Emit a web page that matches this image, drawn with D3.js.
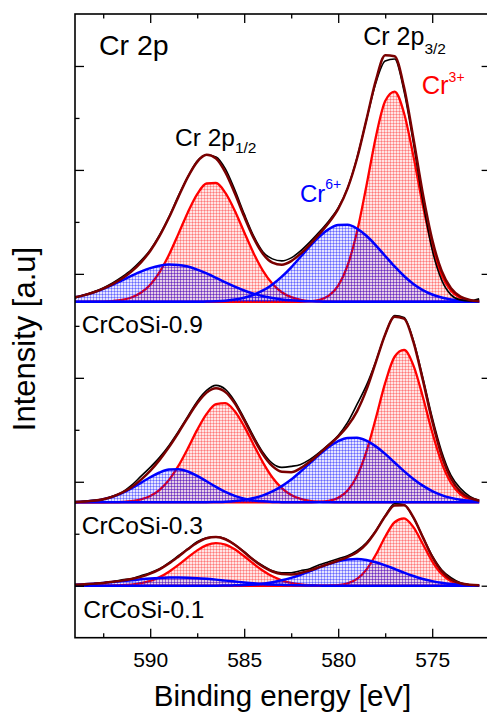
<!DOCTYPE html>
<html><head><meta charset="utf-8">
<script src="https://cdn.jsdelivr.net/npm/d3@7"></script>
<style>html,body{margin:0;padding:0;background:#fff;}svg{display:block;font-family:"Liberation Sans",Arial,sans-serif;}</style>
</head><body><svg id="c" width="487" height="715"></svg>
<script>
// Binding energy grid (eV)
const energy = [594,593.5,593,592.5,592,591.5,591,590.5,590,589.5,589,588.5,588,587.5,587,586.5,586,585.5,585,584.5,584,583.5,583,582.5,582,581.5,581,580.5,580,579.5,579,578.5,578,577.5,577,576.5,576,575.5,575,574.5,574,573.5,573,572.5];

const sampleNames = ["CrCoSi-0.9","CrCoSi-0.3","CrCoSi-0.1"];
const sampleOffsets = [284, 83.4, 0];

// CrCoSi-0.9
const raw09 = [4,7,10,14,19,25,32,41,52,67,85,106,125,141,147,145,133,112,88,66,50,43,41,44,51,60,70,81,94,114,144,182,219,241,243,211,159,101,52,22,7,2,1,3];
const env09 = [4.5,6.7,9.6,13.3,17.8,23.3,30.3,39.3,50.9,66.0,84.4,105.0,124.8,140.1,147.1,143.5,129.6,108.7,85.3,64.0,48.0,39.3,37.2,40.8,48.2,57.6,68.0,79.2,93.1,113.5,143.4,182.1,221.4,246.8,245.8,214.9,163.7,108.4,62.3,31.2,13.6,5.3,1.9,0.6];
const cr3p32_09 = [0,0,0,0,0,0,0,0,0,0,0,0,0,0,0,0,0,0,0,0,0,0,0,0,0.1,0.6,2.0,6.2,16.2,36.4,70.1,116.0,164.8,200.9,210.4,189.0,145.8,96.6,54.9,26.8,11.2,4.0,1.2,0.3];
const cr6p32_09 = [0,0,0,0,0,0,0,0,0,0,0,0,0,0,0.3,0.6,1.2,2.3,4.2,7.1,11.4,17.4,25.2,34.6,45.1,55.7,65.4,72.8,76.9,77.1,73.3,66.1,56.6,45.9,35.4,25.9,17.9,11.8,7.4,4.4,2.4,1.3,0.7,0.3];
const cr3p12_09 = [0,0,0.1,0.3,0.8,1.9,4.4,9.1,17.2,29.8,47.1,68.0,89.5,107.8,118.4,118.9,109.0,91.2,69.7,48.7,31.0,18.1,9.6,4.7,2.1,0.8,0.3,0.1,0,0,0,0,0,0,0,0,0,0,0,0,0,0,0,0];
const cr6p12_09 = [4.5,6.7,9.5,13.0,17.0,21.4,25.9,30.2,33.7,36.2,37.3,37.0,35.3,32.3,28.4,24.0,19.4,15.2,11.4,8.2,5.6,3.8,2.4,1.5,0.9,0.5,0.3,0.1,0,0,0,0,0,0,0,0,0,0,0,0,0,0,0,0];

// CrCoSi-0.3
const raw03 = [0,1,2,3,6,10,17,26,35,45,57,71,86,101,112,117,113,101,84,66,50,39,35,36,38,43,50,58,67,80,98,117,141,168,187,185,162,125,85,51,27,14,6,2];
const env03 = [0.3,0.8,1.6,3.2,5.8,9.7,15.2,22.5,31.5,42.5,55.3,69.6,84.8,99.1,109.8,114.2,110.3,99.0,82.2,64.0,47.8,36.2,30.6,30.2,34.2,40.8,48.8,57.2,65.8,76.3,91.1,112.5,140.1,168.0,185.6,183.8,160.5,122.4,81.4,47.1,23.9,10.7,4.4,1.7];
const cr3p32_03 = [0,0,0,0,0,0,0,0,0,0,0,0,0,0,0,0,0,0,0,0,0,0,0,0,0,0.1,0.4,1.5,4.5,11.8,26.4,50.8,84.1,119.5,145.7,152.5,137.1,105.7,70.1,39.8,19.4,8.1,2.9,0.9];
const cr6p32_03 = [0,0,0,0,0,0,0,0,0,0,0,0,0,0,0.2,0.4,0.7,1.4,2.5,4.3,7.0,10.9,16.2,22.8,30.7,39.2,47.8,55.5,61.3,64.5,64.7,61.7,56.0,48.5,39.9,31.3,23.4,16.7,11.3,7.3,4.5,2.6,1.5,0.8];
const cr3p12_03 = [0,0,0,0,0.2,0.5,1.2,3.0,6.4,12.6,22.5,36.5,53.9,72.5,88.5,98.3,99.2,91.1,76.0,57.7,39.8,24.9,14.2,7.4,3.5,1.5,0.6,0.2,0,0,0,0,0,0,0,0,0,0,0,0,0,0,0,0];
const cr6p12_03 = [0.3,0.8,1.6,3.2,5.6,9.2,14.0,19.5,25.1,29.9,32.8,33.1,30.9,26.6,21.1,15.5,10.4,6.5,3.7,2.0,1.0,0.4,0.2,0,0,0,0,0,0,0,0,0,0,0,0,0,0,0,0,0,0,0,0,0];

// CrCoSi-0.1
const raw01 = [1,1,2,3,4,6,7,10,13,17,23,30,37,44,48,49,47,41,34,26,20,15,13,13,15,17,21,24,27,30,35,43,55,70,82,81,68,49,30,16,8,3,1,0];
const env01 = [1.1,1.5,2.1,2.8,3.9,5.1,6.7,8.9,12.1,16.4,22.2,29.1,36.4,43.0,47.5,48.8,46.5,41.0,33.5,25.7,19.0,14.2,11.7,11.3,12.8,15.4,18.6,21.9,25.2,28.7,33.5,41.8,54.5,69.4,80.3,80.5,68.3,48.6,29.0,14.6,6.3,2.5,0.9,0.4];
const cr3p32_01 = [0,0,0,0,0,0,0,0,0,0,0,0,0,0,0,0,0,0,0,0,0,0,0,0,0,0,0,0.2,0.7,2.4,6.8,16.1,31.0,49.0,63.5,67.4,58.6,41.8,24.4,11.7,4.6,1.5,0.4,0.1];
const cr6p32_01 = [0,0,0,0,0,0,0,0,0,0,0,0,0,0,0,0,0.2,0.4,0.7,1.2,2.1,3.5,5.4,7.9,11.0,14.6,18.3,21.7,24.5,26.3,26.7,25.7,23.5,20.4,16.8,13.1,9.7,6.8,4.6,2.9,1.7,1.0,0.5,0.3];
const cr3p12_01 = [0,0,0,0,0.2,0.5,1.2,2.5,4.9,8.6,14.0,20.8,28.3,35.4,40.6,42.7,41.2,36.4,29.5,22.0,15.0,9.4,5.4,2.8,1.4,0.6,0.2,0,0,0,0,0,0,0,0,0,0,0,0,0,0,0,0,0];
const cr6p12_01 = [1.1,1.5,2.1,2.8,3.7,4.6,5.5,6.4,7.2,7.8,8.2,8.3,8.1,7.6,6.9,6.1,5.1,4.2,3.3,2.5,1.9,1.3,0.9,0.6,0.4,0.2,0.1,0,0,0,0,0,0,0,0,0,0,0,0,0,0,0,0,0];

const xMajorTicks = [590,585,580,575];
const xMinorTicks = [592.5,587.5,582.5,577.5];
const yMajorTicks = [0,104,208,312,416,520];
const yMinorTicks = [52,156,260,364,468];

const spectra = [
  {offset: sampleOffsets[0], raw: raw09, env: env09, red: [cr3p32_09, cr3p12_09], blue: [cr6p32_09, cr6p12_09]},
  {offset: sampleOffsets[1], raw: raw03, env: env03, red: [cr3p32_03, cr3p12_03], blue: [cr6p32_03, cr6p12_03]},
  {offset: sampleOffsets[2], raw: raw01, env: env01, red: [cr3p32_01, cr3p12_01], blue: [cr6p32_01, cr6p12_01]}
];

const L = 75, T = 14, R = 488.6, B = 637.7;
const svg = d3.select("#c");
const x = d3.scaleLinear().domain([594, 572]).range([L, R]);
const y = d3.scaleLinear().domain([-52, 572]).range([B, T]);

const defs = svg.append("defs");
defs.append("clipPath").attr("id","clip").append("rect").attr("x",L).attr("y",T).attr("width",R-L).attr("height",B-T);
function pattern(id, line, bg) {
  const p = defs.append("pattern").attr("id", id).attr("width", 3).attr("height", 3).attr("patternUnits", "userSpaceOnUse");
  p.append("rect").attr("width", 3).attr("height", 3).attr("fill", bg);
  p.append("path").attr("d", "M0,0.5H3M0.5,0V3").attr("stroke", line).attr("stroke-width", 1).attr("fill", "none");
}
pattern("redFill", "rgba(255,0,0,0.27)", "rgba(255,0,0,0.10)");
pattern("blueFill", "rgba(0,0,255,0.33)", "rgba(0,0,255,0.10)");

const plot = svg.append("g").attr("clip-path", "url(#clip)");

spectra.forEach(s => {
  const g = plot.append("g");
  const area = vals => d3.area().curve(d3.curveMonotoneX)
      .x((d, i) => x(energy[i])).y0(y(s.offset)).y1((d) => y(s.offset + d))(vals);
  const line = vals => d3.line().curve(d3.curveMonotoneX)
      .x((d, i) => x(energy[i])).y((d) => y(s.offset + d))(vals);
  s.red.forEach(c => {
    g.append("path").attr("d", area(c)).attr("fill", "url(#redFill)");
    g.append("path").attr("d", line(c)).attr("fill", "none").attr("stroke", "#ff0000").attr("stroke-width", 2.3);
  });
  s.blue.forEach(c => {
    g.append("path").attr("d", area(c)).attr("fill", "url(#blueFill)");
    g.append("path").attr("d", line(c)).attr("fill", "none").attr("stroke", "#0000ff").attr("stroke-width", 2.5);
  });
  g.append("path").attr("d", line(s.raw)).attr("fill", "none").attr("stroke", "#000").attr("stroke-width", 1.6);
  g.append("path").attr("d", line(s.env)).attr("fill", "none").attr("stroke", "#7a0000").attr("stroke-width", 2.5);
});

// axes
const tickStyle = sel => { sel.select(".domain").remove(); sel.selectAll(".tick line").attr("stroke", "#000").attr("stroke-width", 1.3); };
svg.append("g").attr("transform", `translate(0,${B})`)
  .call(d3.axisBottom(x).tickValues(xMajorTicks).tickSize(-9).tickPadding(14).tickFormat(d3.format("d")))
  .call(tickStyle)
  .selectAll("text").attr("font-size", 21).attr("font-family", "Liberation Sans, Arial, sans-serif").attr("fill", "#000");
svg.append("g").attr("transform", `translate(0,${B})`)
  .call(d3.axisBottom(x).tickValues(xMinorTicks).tickSize(-4.5).tickFormat(""))
  .call(tickStyle);
svg.append("g").attr("transform", `translate(0,${T})`)
  .call(d3.axisTop(x).tickValues(xMajorTicks).tickSize(-9).tickFormat("")).call(tickStyle);
svg.append("g").attr("transform", `translate(0,${T})`)
  .call(d3.axisTop(x).tickValues(xMinorTicks).tickSize(-4.5).tickFormat("")).call(tickStyle);
svg.append("g").attr("transform", `translate(${L},0)`)
  .call(d3.axisLeft(y).tickValues(yMajorTicks).tickSize(-9).tickFormat("")).call(tickStyle);
svg.append("g").attr("transform", `translate(${L},0)`)
  .call(d3.axisLeft(y).tickValues(yMinorTicks).tickSize(-4.5).tickFormat("")).call(tickStyle);
svg.append("g").attr("transform", `translate(${R},0)`)
  .call(d3.axisRight(y).tickValues(yMajorTicks).tickSize(-7).tickFormat("")).call(tickStyle);

svg.append("rect").attr("x", L).attr("y", T).attr("width", R - L).attr("height", B - T)
  .attr("fill", "none").attr("stroke", "#000").attr("stroke-width", 1.6);

// axis titles
svg.append("text").attr("x", 282.5).attr("y", 706).attr("text-anchor", "middle")
  .attr("font-size", 29.5).text("Binding energy [eV]");
svg.append("text").attr("transform", "translate(34.5,339) rotate(-90)").attr("text-anchor", "middle")
  .attr("font-size", 31).text("Intensity [a.u]");

// annotations
svg.append("text").attr("x", 99).attr("y", 55).attr("font-size", 28.5).text("Cr 2p");
const t32 = svg.append("text").attr("x", 363.3).attr("y", 45).attr("font-size", 25);
t32.append("tspan").text("Cr 2p");
t32.append("tspan").attr("dy", 9).attr("font-size", 15.5).text("3/2");
const t12 = svg.append("text").attr("x", 175).attr("y", 146).attr("font-size", 24.5);
t12.append("tspan").text("Cr 2p");
t12.append("tspan").attr("dy", 7).attr("font-size", 15.5).text("1/2");
const t3 = svg.append("text").attr("x", 421.7).attr("y", 94).attr("font-size", 25.5).attr("fill", "#ff0000");
t3.append("tspan").text("Cr");
t3.append("tspan").attr("dy", -12).attr("font-size", 14).text("3+");
const t6 = svg.append("text").attr("x", 300).attr("y", 201.7).attr("font-size", 24).attr("fill", "#0000ff");
t6.append("tspan").text("Cr");
t6.append("tspan").attr("dy", -13).attr("font-size", 14).text("6+");

sampleNames.forEach((n, i) => {
  svg.append("text").attr("x", i === 2 ? 83.3 : 81.7).attr("y", y(sampleOffsets[i]) + (i === 2 ? 32.3 : 31.2))
    .attr("font-size", 24.5).text(n);
});
</script></body></html>
